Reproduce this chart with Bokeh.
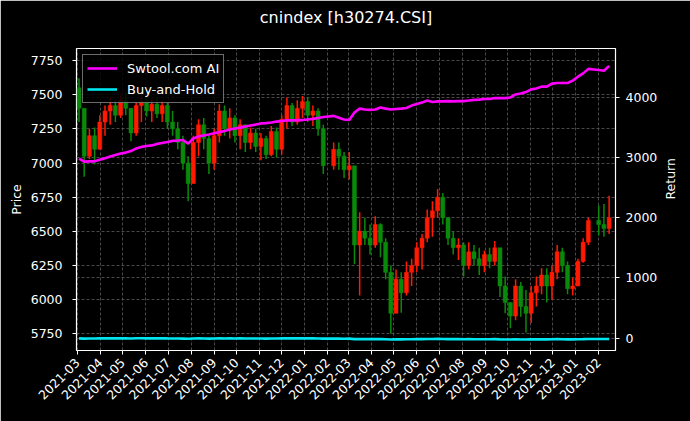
import math
import pandas as pd
from bokeh.plotting import figure
from bokeh.models import (Range1d, LinearAxis, FixedTicker, DatetimeTickFormatter,
                          Grid, Legend, LegendItem, ColumnDataSource, Title)
from bokeh.embed import file_html
from bokeh.resources import INLINE

# ---------------- data (weekly) ----------------
title_text = "cnindex [h30274.CSI]"
first_week = "2021-03-03"
first_open = 7550
close = [7400, 7050, 7200, 7100, 7300, 7380, 7420, 7350, 7460, 7400,
         7220, 7420, 7450, 7380, 7430, 7360, 7420, 7300, 7250, 7150,
         7000, 6850, 7150, 7280, 7180, 7000, 7200, 7380, 7250, 7330,
         7200, 7280, 7150, 7220, 7120, 7180, 7060, 7230, 7100, 7320,
         7420, 7300, 7400, 7450, 7350, 7380, 7250, 6980, None, 7100,
         7050, 6950, 6980, 6400, 6500, 6450, 6400, 6550, 6420, 6200,
         5900, 6150, 6050, 6200, 6250, 6380, 6450, 6600, 6650, 6750,
         6600, 6450, 6380, 6400, 6250, 6350, 6300, 6250, 6330, 6280,
         6380, 6100, 5980, 5880, 6100, 5950, 5900, 6050, 6100, 6180,
         6100, 6200, 6350, 6250, 6080, 6100, 6280, 6420, 6580, None,
         6550, 6520, 6600]
high = [7620, 7350, 7250, 7260, 7350, 7420, 7480, 7470, 7500, 7520,
        7400, 7450, 7520, 7500, 7470, 7480, 7460, 7440, 7380, 7300,
        7200, 7050, 7200, 7320, 7330, 7200, 7250, 7430, 7420, 7400,
        7350, 7320, 7280, 7260, 7250, 7220, 7200, 7270, 7260, 7350,
        7480, 7440, 7460, 7490, 7480, 7420, 7400, 7280, None, 7150,
        7150, 7080, 7080, 6980, 6640, 6600, 6550, 6610, 6560, 6450,
        6250, 6220, 6200, 6280, 6300, 6420, 6480, 6660, 6720, 6810,
        6780, 6600, 6500, 6450, 6420, 6420, 6400, 6380, 6360, 6380,
        6430, 6350, 6170, 5980, 6150, 6130, 6070, 6100, 6170, 6230,
        6230, 6250, 6400, 6380, 6280, 6160, 6300, 6450, 6600, None,
        6690, 6700, 6760]
low = [7300, 6900, 7030, 6990, 7100, 7200, 7280, 7300, 7330, 7350,
       7160, 7200, 7300, 7340, 7300, 7330, 7300, 7250, 7200, 7100,
       6950, 6720, 6850, 7050, 7100, 6920, 6950, 7150, 7200, 7180,
       7150, 7100, 7080, 7100, 7080, 7020, 7030, 7050, 7040, 7060,
       7250, 7270, 7280, 7330, 7300, 7270, 7200, 6920, None, 6950,
       6950, 6890, 6880, 6260, 6030, 6400, 6330, 6380, 6310, 6150,
       5750, 5900, 5905, 6030, 6100, 6200, 6220, 6420, 6460, 6600,
       6550, 6400, 6330, 6290, 6170, 6220, 6250, 6180, 6200, 6230,
       6250, 6020, 5900, 5790, 5850, 5875, 5760, 5830, 5950, 6040,
       5980, 6000, 6150, 6200, 6040, 6030, 6140, 6270, 6400, None,
       6470, 6460, 6480]
strategy_return = [2980, 2930, 2935, 2935, 2960, 2985, 3015, 3040, 3065, 3080,
                   3105, 3150, 3175, 3190, 3200, 3225, 3240, 3255, 3275, 3280,
                   3290, 3230, 3315, 3350, 3365, 3380, 3400, 3420, 3440, 3465,
                   3480, 3495, 3515, 3530, 3545, 3565, 3570, 3580, 3595, 3605,
                   3615, 3615, 3620, 3620, 3630, 3640, 3655, 3670, 3680, 3690,
                   3660, 3630, 3620, 3745, 3810, 3795, 3790, 3795, 3830, 3810,
                   3795, 3805, 3810, 3820, 3860, 3885, 3910, 3945, 3920, 3930,
                   3930, 3935, 3930, 3935, 3935, 3945, 3955, 3960, 3970, 3970,
                   3985, 3985, 3985, 3995, 4045, 4060, 4085, 4130, 4145, 4175,
                   4175, 4225, 4235, 4235, 4235, 4275, 4340, 4395, 4470, 4460,
                   4450, 4440, 4520]
month_ticks = pd.date_range("2021-03-01", "2023-02-01", freq="MS")
price_ticks = [5750, 6000, 6250, 6500, 6750, 7000, 7250, 7500, 7750]
return_ticks = [0, 1000, 2000, 3000, 4000]

# ---------------- frames ----------------
dates = pd.date_range(first_week, periods=len(close), freq="7D")
df = pd.DataFrame({"date": dates, "close": close, "high": high, "low": low,
                   "ret": strategy_return}).astype({"close": float, "high": float, "low": float})
df["open"] = df["close"].ffill().shift(1)
df.loc[0, "open"] = first_open
df["bh"] = (df["close"].ffill() / first_open - 1.0) * 100.0
candles = df.dropna(subset=["close"]).copy()
up = candles[candles["close"] >= candles["open"]]
down = candles[candles["close"] < candles["open"]]

FONT = "DejaVu Sans"
RED = "#ff1a00"
GREEN = "#0a8a0a"

p = figure(width=690, height=421, x_axis_type="datetime",
           x_range=Range1d(pd.Timestamp("2021-02-27 15:00"), pd.Timestamp("2023-02-23 14:00")),
           y_range=Range1d(5628, 7838),
           output_backend="svg", toolbar_location=None,
           background_fill_color="black", border_fill_color="black",
           outline_line_color="white", outline_line_width=1.2,
           min_border_left=76, min_border_right=75, min_border_top=48, min_border_bottom=71)

p.extra_y_ranges = {"ret": Range1d(-204, 4808)}

# candles
body_w = 5.4 * 86400000
for part, col in ((up, RED), (down, GREEN)):
    src = ColumnDataSource(part)
    p.segment(x0="date", y0="high", x1="date", y1="low", source=src, line_color=col, line_width=1.5)
    p.vbar(x="date", width=body_w, top="open", bottom="close", source=src,
           fill_color=col, line_color=col, line_width=0.5)

src_all = ColumnDataSource(df)
r_ai = p.line(x="date", y="ret", source=src_all, y_range_name="ret",
              line_color="#ff00ff", line_width=2.6)
r_bh = p.line(x="date", y="bh", source=src_all, y_range_name="ret",
              line_color="#00e5ee", line_width=2.6)

# axes
right = LinearAxis(y_range_name="ret", axis_label="Return",
                   ticker=FixedTicker(ticks=return_ticks))
p.add_layout(right, "right")

p.xaxis.ticker = FixedTicker(ticks=[int(t.timestamp() * 1000) for t in month_ticks])
fmt = "%Y-%m"
p.xaxis.formatter = DatetimeTickFormatter(years=fmt, months=fmt, days=fmt, hours=fmt,
                                          minutes=fmt, seconds=fmt, milliseconds=fmt,
                                          microseconds=fmt, hourmin=fmt, minsec=fmt)
p.xaxis.major_label_orientation = math.pi / 4
p.yaxis[0].ticker = FixedTicker(ticks=price_ticks)
p.yaxis[0].axis_label = "Price"
right.axis_label_orientation = math.pi / 2

for ax in p.xaxis + p.yaxis:
    ax.axis_line_color = None
    ax.major_tick_line_color = "white"
    ax.major_tick_out = 4
    ax.major_tick_in = 0
    ax.minor_tick_line_color = None
    ax.major_label_text_color = "white"
    ax.major_label_text_font = FONT
    ax.major_label_text_font_size = "12.5px"
    ax.axis_label_text_color = "white"
    ax.axis_label_text_font = FONT
    ax.axis_label_text_font_size = "12.5px"
    ax.axis_label_text_font_style = "normal"
p.yaxis[0].major_label_standoff = 10
p.yaxis[0].axis_label_standoff = 4
right.major_label_standoff = 6
right.axis_label_standoff = 10
p.xaxis.major_label_standoff = 6

# grids
grid_style = dict(grid_line_color="#5c5c5c", grid_line_dash="3 2", grid_line_width=0.8)
for g in p.xgrid + p.ygrid:
    for k, v in grid_style.items():
        setattr(g, k, v)
p.ygrid.ticker = FixedTicker(ticks=price_ticks)
p.add_layout(Grid(dimension=1, ticker=FixedTicker(ticks=return_ticks), y_range_name="ret", **grid_style))

# legend
legend = Legend(items=[LegendItem(label="Swtool.com AI", renderers=[r_ai]),
                       LegendItem(label="Buy-and-Hold", renderers=[r_bh])],
                location="top_left", margin=6, padding=4, spacing=3,
                glyph_width=30, glyph_height=18, label_height=18, label_standoff=10,
                background_fill_color="black", background_fill_alpha=0.85,
                border_line_color="#d8d8d8", border_line_width=1,
                label_text_color="white", label_text_font=FONT, label_text_font_size="13px")
p.add_layout(legend)

# title: a blank spacer next to the frame, then the real title above it
spacer = Title(text=" ", text_font_size="16px", text_font=FONT, standoff=0, text_color="black")
p.add_layout(spacer, "above")
main_title = Title(text=title_text, align="center", text_color="white", text_font=FONT,
                   text_font_size="16px", text_font_style="normal", standoff=2)
p.add_layout(main_title, "above")

open("out.html", "w").write(file_html(p, INLINE))
